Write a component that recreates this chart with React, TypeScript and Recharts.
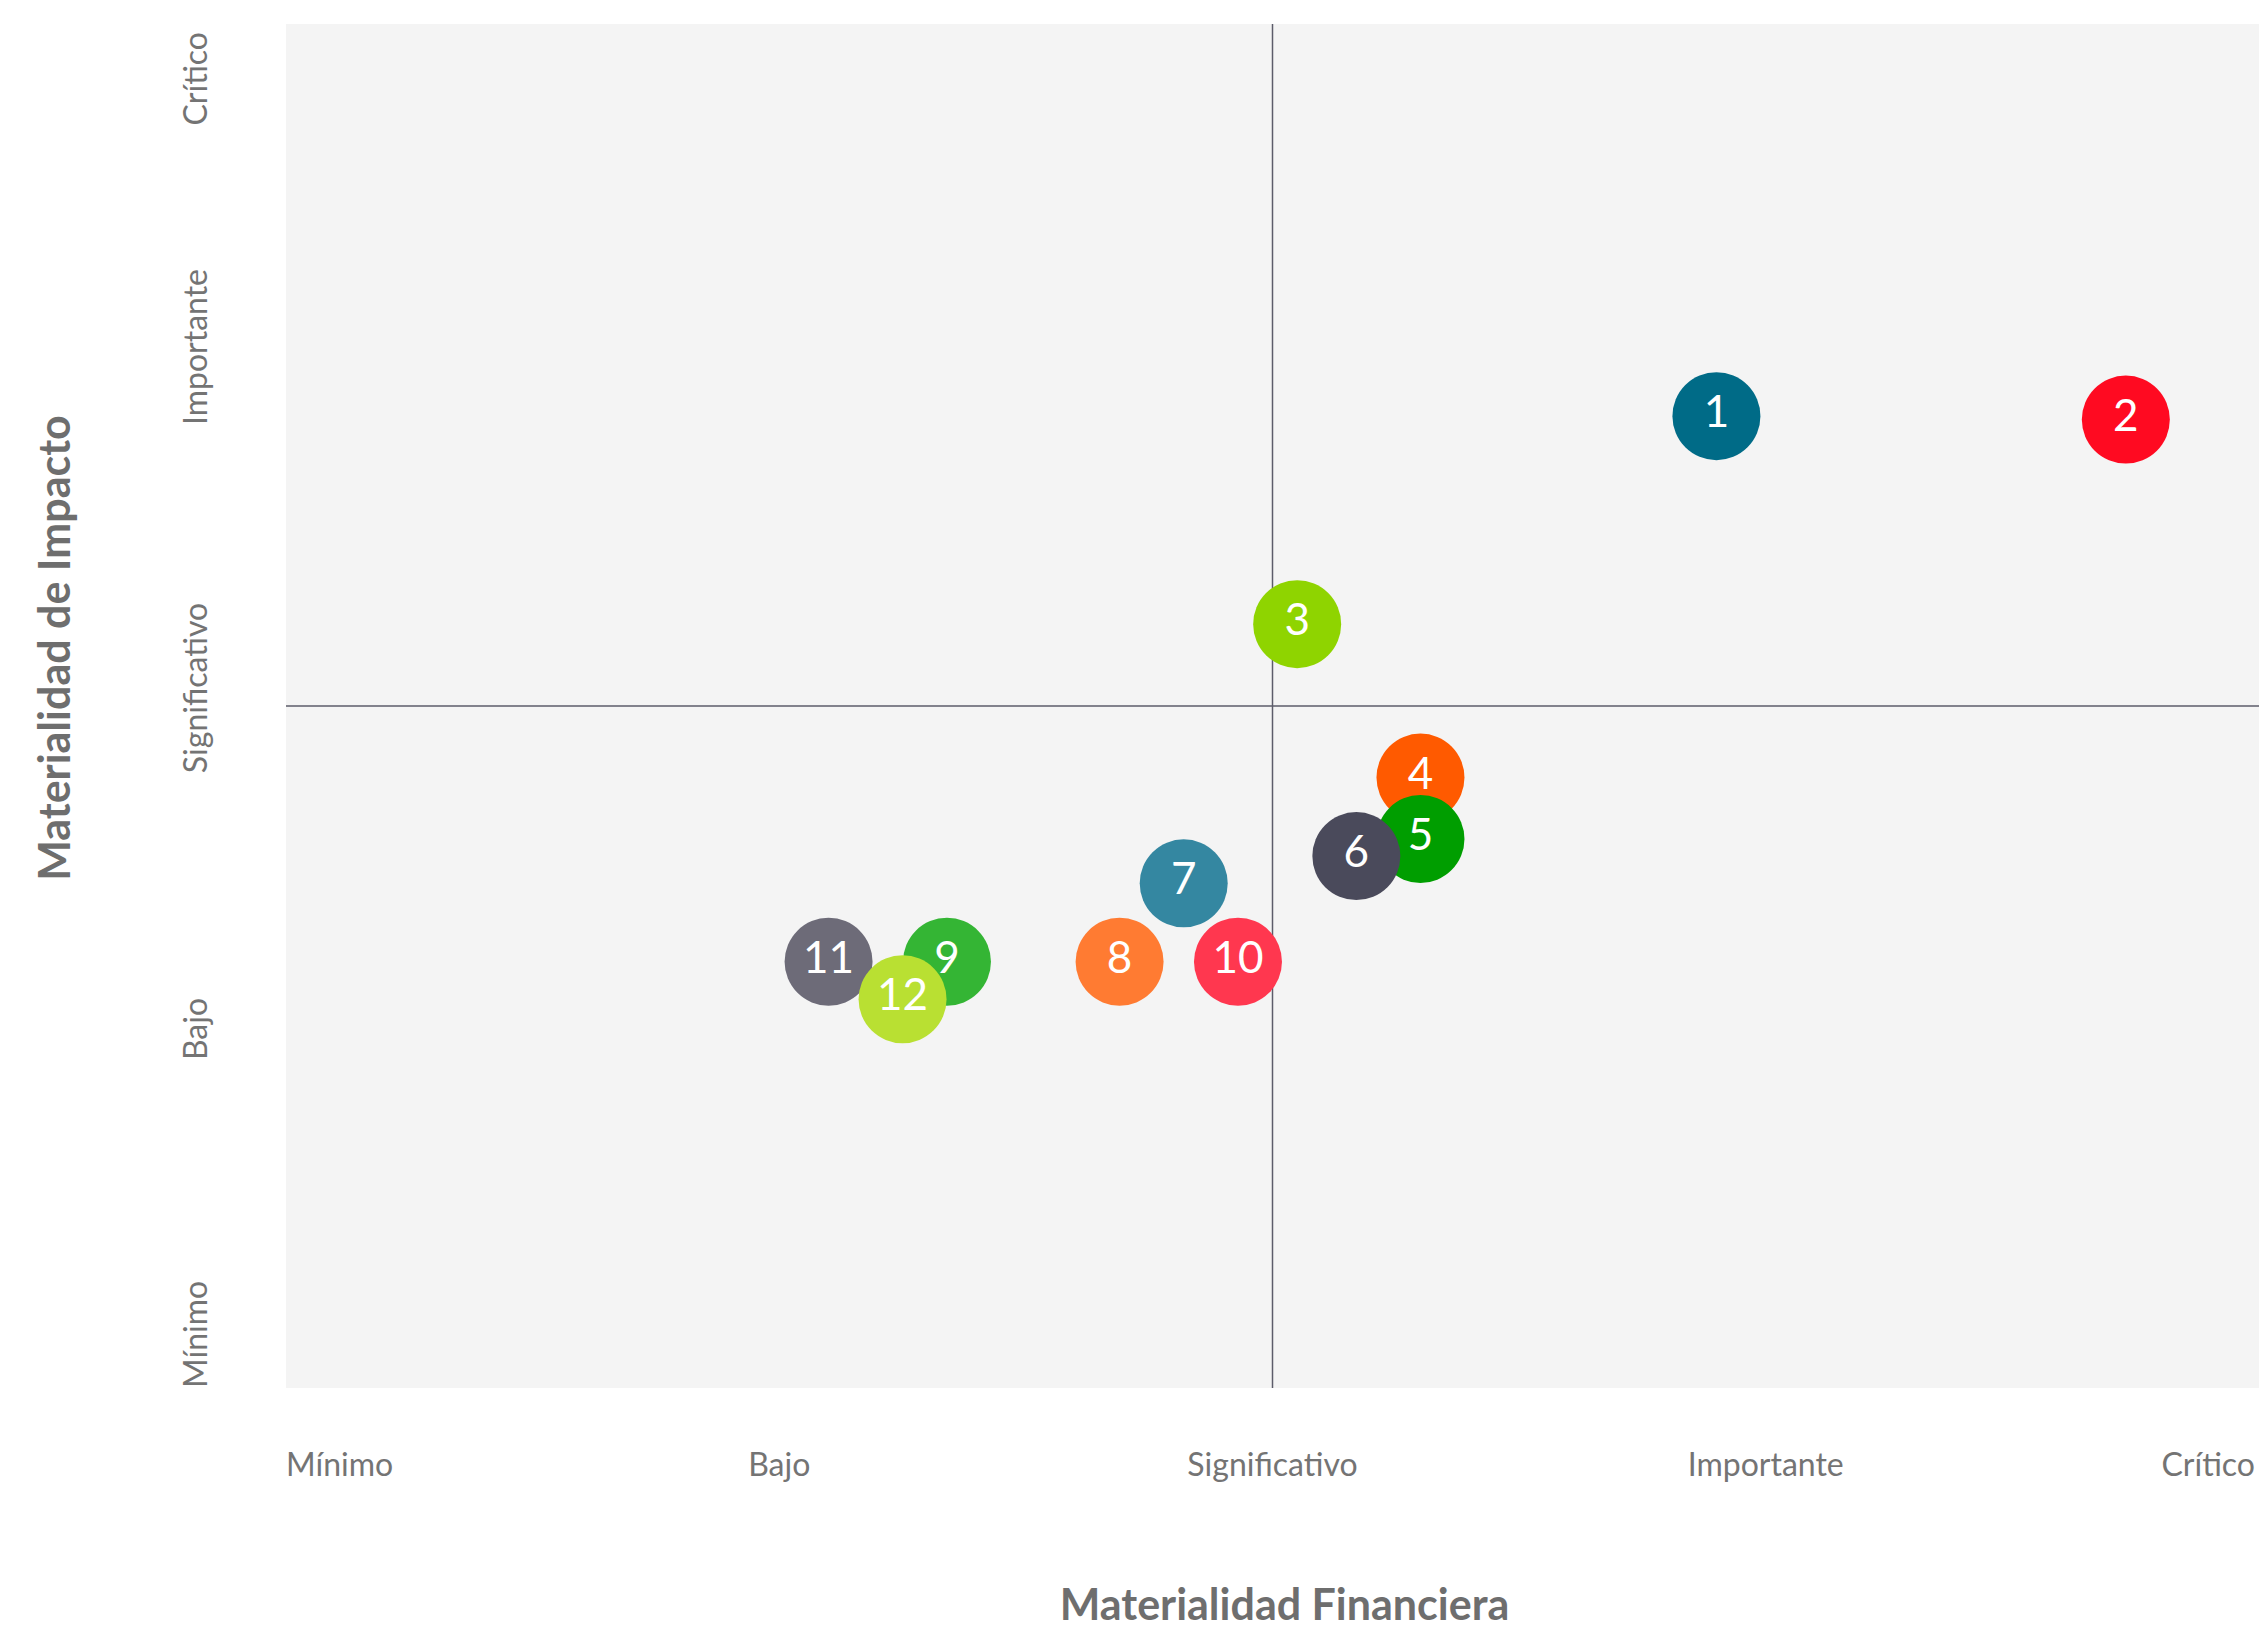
import { ScatterChart, Scatter, XAxis, YAxis, CartesianGrid, ReferenceLine } from 'recharts'

const LEVELS = ['Mínimo', 'Bajo', 'Significativo', 'Importante', 'Crítico']
const LEVEL_TICKS = [1, 2, 3, 4, 5]

const TOPIC_IDS = [1, 2, 3, 4, 5, 6, 7, 8, 9, 10, 11, 12]
const FINANCIAL = [3.9, 4.73, 3.05, 3.3, 3.3, 3.17, 2.82, 2.69, 2.34, 2.93, 2.1, 2.25]
const IMPACT = [3.85, 3.84, 3.24, 2.79, 2.61, 2.56, 2.48, 2.25, 2.25, 2.25, 2.25, 2.14]
const TOPIC_COLORS = [
  '#006b87',
  '#ff0a21',
  '#8fd400',
  '#ff5a00',
  '#009e00',
  '#4a4a5b',
  '#3487a1',
  '#ff7b32',
  '#34b534',
  '#ff374f',
  '#6d6b78',
  '#b9e032',
]

const FONT = 'Lato, "Open Sans", sans-serif'
const TEXT_GRAY = '#747474'

const points = TOPIC_IDS.map((id, i) => ({
  id,
  fin: FINANCIAL[i],
  imp: IMPACT[i],
  color: TOPIC_COLORS[i],
}))

function XTick({ x, y, payload, index }: any) {
  const anchor = index === 0 ? 'start' : index === LEVELS.length - 1 ? 'end' : 'middle'
  return (
    <text x={x} y={y + 88} textAnchor={anchor} fill={TEXT_GRAY} fontSize={32} fontFamily={FONT}>
      {LEVELS[payload.value - 1]}
    </text>
  )
}

function YTick({ x, y, payload, index }: any) {
  const anchor = index === 0 ? 'start' : index === LEVELS.length - 1 ? 'end' : 'middle'
  const tx = x - 79
  const ty = index === LEVELS.length - 1 ? y + 8 : index === 0 ? y : y - 18
  return (
    <text
      x={tx}
      y={ty}
      transform={`rotate(-90, ${tx}, ${ty})`}
      textAnchor={anchor}
      fill={TEXT_GRAY}
      fontSize={32}
      fontFamily={FONT}
    >
      {LEVELS[payload.value - 1]}
    </text>
  )
}

function Bubble({ cx, cy, payload }: any) {
  return (
    <g>
      <circle cx={cx} cy={cy} r={44} fill={payload.color} />
      <text
        x={cx}
        y={cy + 11}
        textAnchor="middle"
        fill="#ffffff"
        fontSize={44}
        fontFamily={FONT}
      >
        {payload.id}
      </text>
    </g>
  )
}

function XTitle({ viewBox }: any) {
  const { x, y, width } = viewBox
  return (
    <text
      x={x + width / 2 + 12}
      y={y + 232}
      textAnchor="middle"
      fill="#6e6e6e"
      fontSize={43}
      fontWeight={700}
      fontFamily={FONT}
    >
      Materialidad Financiera
    </text>
  )
}

function YTitle({ viewBox }: any) {
  const { x, y, height } = viewBox
  const tx = x + 70
  const ty = y + height / 2 - 58
  return (
    <text
      x={tx}
      y={ty}
      transform={`rotate(-90, ${tx}, ${ty})`}
      textAnchor="middle"
      fill="#6e6e6e"
      fontSize={43}
      fontWeight={700}
      fontFamily={FONT}
    >
      Materialidad de Impacto
    </text>
  )
}

export default function App() {
  return (
    <div style={{ position: 'absolute', left: 0, top: 0, background: '#ffffff' }}>
      <ScatterChart width={2259} height={1629} margin={{ top: 24, right: 0, bottom: 0, left: 0 }}>
        <CartesianGrid fill="#f4f4f4" horizontal={false} vertical={false} />
        <XAxis
          type="number"
          dataKey="fin"
          domain={[1, 5]}
          ticks={LEVEL_TICKS}
          height={241}
          axisLine={false}
          tickLine={false}
          tickSize={0}
          tickMargin={0}
          tick={<XTick />}
          label={<XTitle />}
        />
        <YAxis
          type="number"
          dataKey="imp"
          domain={[1, 5]}
          ticks={LEVEL_TICKS}
          width={286}
          axisLine={false}
          tickLine={false}
          tickSize={0}
          tickMargin={0}
          tick={<YTick />}
          label={<YTitle />}
        />
        <ReferenceLine x={3} stroke="#5c5c6a" strokeWidth={1.5} />
        <ReferenceLine y={3} stroke="#5c5c6a" strokeWidth={1.5} />
        <Scatter data={points} shape={<Bubble />} isAnimationActive={false} />
      </ScatterChart>
    </div>
  )
}
